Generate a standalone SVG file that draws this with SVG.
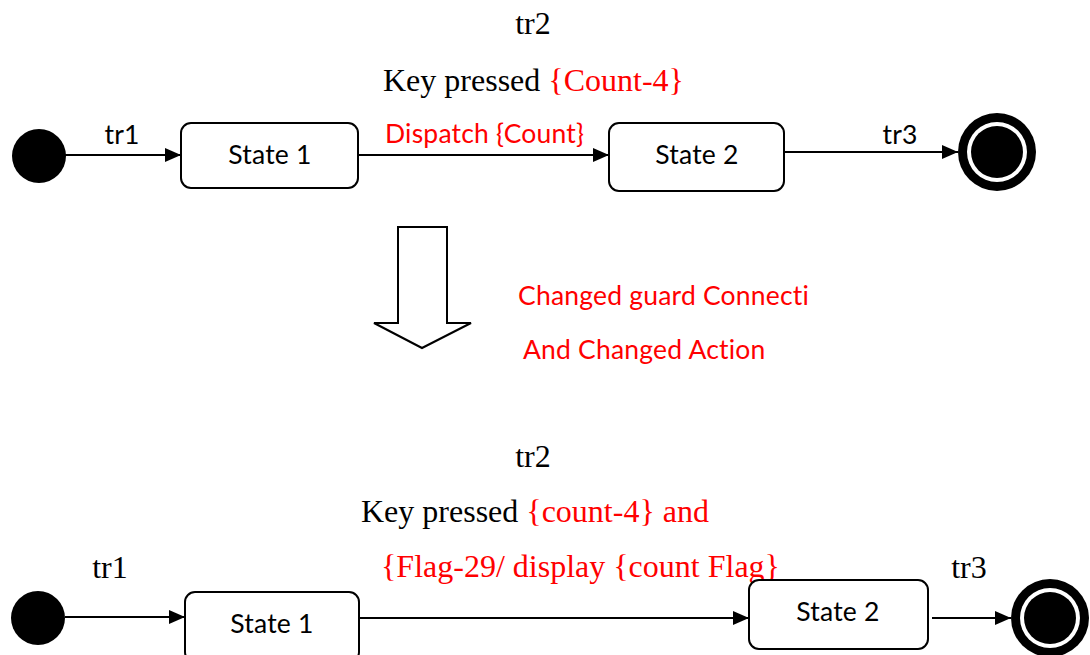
<svg xmlns="http://www.w3.org/2000/svg" width="1090" height="655" viewBox="0 0 1090 655">
<defs>
<style>
.sans{font-family:Lato,"Open Sans","Liberation Sans",sans-serif;font-size:26.5px;letter-spacing:0.2px;fill:#000}
.serif{font-family:"Liberation Serif","Times New Roman",serif;font-size:32px;fill:#000}
.red{fill:#ff0000}
.box{fill:#fff;stroke:#000;stroke-width:2}
</style>
<marker id="ah2" viewBox="0 0 16 14" refX="16" refY="7" markerWidth="16" markerHeight="14" markerUnits="userSpaceOnUse" orient="auto">
<path d="M0,0 L16,7 L0,14 z" fill="#000"/>
</marker>
</defs>
<rect width="1090" height="655" fill="#fff"/>

<g id="connectors">
<line x1="65" y1="155" x2="181" y2="155" stroke="#000" stroke-width="2" marker-end="url(#ah2)"/>
<line x1="358" y1="155" x2="609" y2="155" stroke="#000" stroke-width="2" marker-end="url(#ah2)"/>
<line x1="784" y1="152" x2="958" y2="152" stroke="#000" stroke-width="2" marker-end="url(#ah2)"/>
<line x1="65" y1="617" x2="185" y2="617" stroke="#000" stroke-width="2" marker-end="url(#ah2)"/>
<line x1="359" y1="618" x2="749" y2="618" stroke="#000" stroke-width="2" marker-end="url(#ah2)"/>
<line x1="932" y1="618" x2="1011" y2="618" stroke="#000" stroke-width="2" marker-end="url(#ah2)"/>
</g>

<g id="labels">
<text class="sans" x="122" y="144" text-anchor="middle">tr1</text>
<text class="serif" x="533" y="34" text-anchor="middle">tr2</text>
<text class="serif" x="383" y="91">Key pressed <tspan class="red">{Count-4}</tspan></text>
<text class="sans red" x="385" y="143">Dispatch {Count}</text>
<text class="sans" x="900" y="144" text-anchor="middle">tr3</text>
<text class="sans red" x="518" y="305">Changed guard Connecti</text>
<text class="sans red" x="523" y="359">And Changed Action</text>
<text class="serif" x="533" y="467" text-anchor="middle">tr2</text>
<text class="serif" x="361" y="522">Key pressed <tspan class="red">{count-4} and</tspan></text>
<text class="serif red" x="381" y="577">{Flag-29/ display {count Flag}</text>
<text class="serif" x="110" y="578" text-anchor="middle">tr1</text>
<text class="serif" x="969" y="578" text-anchor="middle">tr3</text>
</g>

<g id="initial1"><circle cx="39" cy="156" r="27" fill="#000"/></g>
<g id="state1a"><rect class="box" x="181" y="123" width="177" height="65" rx="10"/><text class="sans" x="270" y="164" text-anchor="middle">State 1</text></g>
<g id="state2a"><rect class="box" x="609" y="123" width="175" height="68" rx="10"/><text class="sans" x="697" y="164" text-anchor="middle">State 2</text></g>
<g id="final1"><circle cx="997" cy="152" r="39" fill="#000"/><circle cx="997" cy="152" r="30" fill="#fff"/><circle cx="997" cy="152" r="26" fill="#000"/></g>

<g id="bigarrow"><path d="M398,227 L447,227 L447,323 L471,323 L422,348 L374,323 L398,323 Z" fill="#fff" stroke="#000" stroke-width="2"/></g>

<g id="initial2"><circle cx="38" cy="618" r="27" fill="#000"/></g>
<g id="state1b"><rect class="box" x="185" y="592" width="174" height="70" rx="10"/><text class="sans" x="272" y="633" text-anchor="middle">State 1</text></g>
<g id="state2b"><rect class="box" x="749" y="580" width="179" height="69" rx="10"/><text class="sans" x="838" y="621" text-anchor="middle">State 2</text></g>
<g id="final2"><circle cx="1050" cy="618" r="39" fill="#000"/><circle cx="1050" cy="618" r="30" fill="#fff"/><circle cx="1050" cy="618" r="26" fill="#000"/></g>
</svg>
